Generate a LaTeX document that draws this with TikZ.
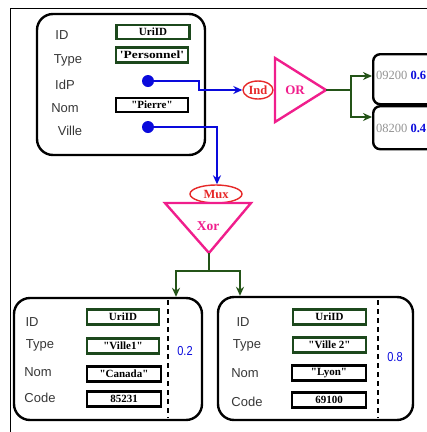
\documentclass[tikz,border=0pt]{standalone}
\usepackage{fontspec}
\setmainfont{Liberation Serif}
\newfontfamily\lsans{Liberation Sans}
\usetikzlibrary{arrows.meta,shapes.geometric}
\newcommand{\dq}{\textquotedbl}
\newcommand{\sq}{\textquotesingle}
\definecolor{dgreen}{RGB}{28,72,28}
\definecolor{agreen}{RGB}{36,84,24}
\definecolor{myblue}{RGB}{10,10,220}
\definecolor{mypink}{RGB}{240,30,140}
\definecolor{myred}{RGB}{230,40,40}
\definecolor{lblgray}{RGB}{55,55,55}
\tikzset{
  ent/.style={draw=black,line width=2.4pt,rounded corners=16pt,inner sep=0pt},
  lbl/.style={font=\lsans\fontsize{13}{13}\selectfont,text=lblgray,inner sep=0pt},
  valg/.style={draw=dgreen,line width=2.6pt,minimum width=72pt,minimum height=15pt,inner sep=0pt,font=\bfseries\fontsize{11}{11}\selectfont},
  valb/.style={draw=black,line width=2.6pt,minimum width=72pt,minimum height=15pt,inner sep=0pt,font=\bfseries\fontsize{11}{11}\selectfont},
  dot/.style={circle,fill=myblue,minimum size=12pt,inner sep=0pt},
  bline/.style={draw=myblue,line width=1.5pt},
  gline/.style={draw=agreen,line width=1.6pt},
  barr/.style={bline,-{Stealth[length=9pt,width=8pt]}},
  garr/.style={gline,-{Stealth[length=9pt,width=8pt]}},
  opell/.style={ellipse,draw=myred,line width=1.4pt,inner sep=0pt,text=myred,font=\bfseries\fontsize{12.5}{12}\selectfont},
  optri/.style={draw=mypink,line width=2.4pt,line join=miter},
  optxt/.style={text=mypink,inner sep=0pt},
  prob/.style={text=myblue,inner sep=0pt,font=\lsans\fontsize{13}{13}\selectfont},
  sep/.style={draw=black,line width=2.6pt,dash pattern=on 5pt off 4pt},
  resbox/.style={draw=black,line width=2.4pt,rounded corners=7pt},
  restxt/.style={inner sep=0pt,anchor=west,text=gray!85,font=\fontsize{12.5}{12}\selectfont}
}
\begin{document}
\begin{tikzpicture}[x=1pt,y=-1pt]
\useasboundingbox (0,0) rectangle (427,432);
% frame
\draw[line width=1pt] (10,432) -- (10,8) -- (427,8);
% person entity
\node[ent,minimum width=168pt,minimum height=141pt] (pers) at (121,84.5) {};
\node[lbl] (pID) at (62,35) {ID};
\node[lbl] (pType) at (68,60) {Type};
\node[lbl] (pIdP) at (65,85) {IdP};
\node[lbl] (pNom) at (65,108) {Nom};
\node[lbl] (pVille) at (70,131) {Ville};
\node[valg,minimum width=73pt,minimum height=14pt] (pvID) at (153,32) {UriID};
\node[valg,minimum height=15pt] (pvType) at (152,55) {\scalebox{1.22}[1]{\sq Personnel\sq}};
\node[dot] (dIdP) at (148,81) {};
\node[valb,minimum height=14pt] (pvNom) at (152,105) {\dq Pierre\dq};
\node[dot] (dVille) at (148,127) {};
% Ind / OR
\node[opell,minimum width=30pt,minimum height=18pt] (ind) at (258,90) {Ind};
\coordinate (orA) at (275,58);
\coordinate (orB) at (275,122);
\coordinate (orT) at (326,90);
\draw[optri] (orA) -- (orT) -- (orB) -- cycle;
\node[optxt,font=\bfseries\fontsize{13}{13}\selectfont] (ortx) at (295,90) {OR};
\coordinate (k1) at (199,81);
\coordinate (k2) at (199,90);
\draw[barr] (dIdP.center) -- (k1) -- (k2) -- (ind.west);
% right results
\node[resbox,minimum width=80pt,minimum height=50pt,anchor=north west] (r1) at (372,53) {};
\node[resbox,minimum width=80pt,minimum height=43pt,anchor=north west] (r2) at (372,105) {};
\node[restxt] (r1t) at (376,75) {09200 \textcolor{myblue}{\bfseries 0.6}};
\node[restxt] (r2t) at (376,128) {08200 \textcolor{myblue}{\bfseries 0.4}};
\coordinate (j1) at (351,90);
\coordinate (j1u) at (351,76);
\coordinate (j1d) at (351,117);
\coordinate (e1) at (372,76);
\coordinate (e2) at (372,117);
\draw[gline] (orT) -- (j1);
\draw[garr] (j1) -- (j1u) -- (e1);
\draw[garr] (j1) -- (j1d) -- (e2);
% Mux / Xor
\node[opell,minimum width=52pt,minimum height=18pt] (mux) at (216,194) {Mux};
\coordinate (xA) at (165,203);
\coordinate (xB) at (251,203);
\coordinate (xT) at (209,253);
\draw[optri] (xA) -- (xB) -- (xT) -- cycle;
\node[optxt,font=\bfseries\fontsize{13.5}{13}\selectfont] (xortx) at (208,226) {Xor};
\coordinate (k3) at (217,127);
\draw[barr] (dVille.center) -- (k3) -- (k3 |- mux.north);
\coordinate (j2) at (209,271);
\coordinate (j2l) at (176,271);
\coordinate (j2r) at (240,271);
\draw[gline] (xT) -- (j2);
% bottom left entity
\node[ent,minimum width=188pt,minimum height=122pt] (v1) at (108,359) {};
\draw[garr] (j2) -- (j2l) -- (j2l |- v1.north);
\node[lbl] (v1ID) at (32,322) {ID};
\node[lbl] (v1Type) at (40,345) {Type};
\node[lbl] (v1Nom) at (38,372) {Nom};
\node[lbl] (v1Code) at (40,398) {Code};
\node[valg] (v1vID) at (123,317) {UriID};
\node[valg] (v1vType) at (123,346) {\dq Ville1\dq};
\node[valb,minimum width=74pt] (v1vNom) at (124,374) {\dq Canada\dq};
\node[valb,minimum width=74pt] (v1vCode) at (124,399) {85231};
\coordinate (s1a) at (168,300);
\coordinate (s1b) at (168,418);
\draw[sep] (s1a) -- (s1b);
\node[prob] (p1) at (185,351) {\scalebox{0.85}[1]{0.2}};
% bottom right entity
\node[ent,minimum width=195pt,minimum height=123pt] (v2) at (315.5,358.5) {};
\draw[garr] (j2) -- (j2r) -- (j2r |- v2.north);
\node[lbl] (v2ID) at (243,322) {ID};
\node[lbl] (v2Type) at (247,345) {Type};
\node[lbl] (v2Nom) at (245,373) {Nom};
\node[lbl] (v2Code) at (247,402) {Code};
\node[valg,minimum width=73pt] (v2vID) at (329.5,317) {UriID};
\node[valg,minimum width=73pt] (v2vType) at (329.5,345) {\dq Ville 2\dq};
\node[valb,minimum width=74pt] (v2vNom) at (329,373) {\dq Lyon\dq};
\node[valb,minimum width=74pt] (v2vCode) at (329,400) {69100};
\coordinate (s2a) at (378,300);
\coordinate (s2b) at (378,418);
\draw[sep] (s2a) -- (s2b);
\node[prob] (p2) at (395,357) {\scalebox{0.85}[1]{0.8}};
\end{tikzpicture}
\end{document}
